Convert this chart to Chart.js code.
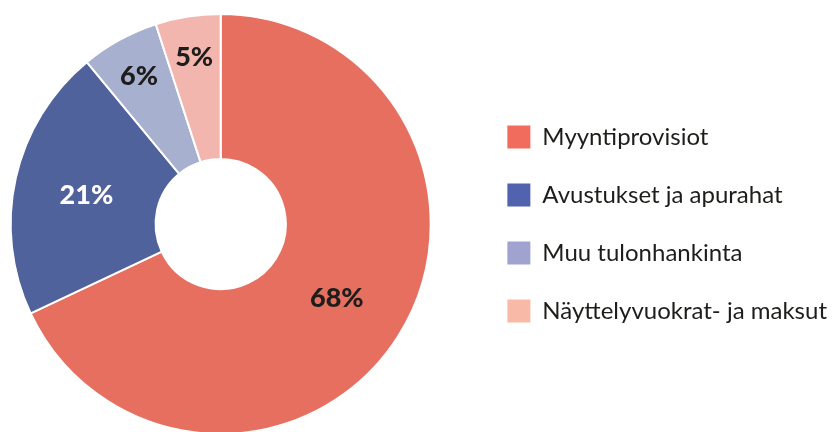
<!DOCTYPE html>
<html>
<head>
<meta charset="utf-8">
<script src="https://cdn.jsdelivr.net/npm/chart.js@4/dist/chart.umd.min.js"></script>
<style>
    html, body { margin: 0; padding: 0; background: #fff; overflow: hidden; }
    #wrap { width: 837px; height: 432px; overflow: hidden; position: relative; }
    /* canvas is a bit wider than the page and pulled left so the ring sits near the edge */
    #incomeChart { position: absolute; left: -32px; top: 0; }
</style>
</head>
<body>
<div id="wrap"><canvas id="incomeChart" width="869" height="432"></canvas></div>
<script>
// Data
const categories = ['Myyntiprovisiot', 'Avustukset ja apurahat', 'Muu tulonhankinta', 'Näyttelyvuokrat- ja maksut'];
const shares = [68, 21, 6, 5];

// Colours
const sliceColors = ['#E76F60', '#50629C', '#A7B0CF', '#F3B6AF'];
const legendColors = ['#F26C5E', '#5163AE', '#A0A3CF', '#F9B9A7'];
const labelColors = ['#1d1d1b', '#ffffff', '#1d1d1b', '#1d1d1b'];

const FONT = "Lato, 'Noto Sans', sans-serif";

// Percentage labels drawn on top of each slice
const sliceLabels = {
    id: 'sliceLabels',
    afterDatasetsDraw(chart) {
        const ctx = chart.ctx;
        const meta = chart.getDatasetMeta(0);
        ctx.save();
        ctx.font = `900 27px ${FONT}`;
        ctx.textAlign = 'center';
        ctx.textBaseline = 'middle';
        meta.data.forEach((arc, i) => {
            const p = arc.getProps(['x', 'y', 'startAngle', 'endAngle', 'innerRadius', 'outerRadius'], true);
            const mid = (p.startAngle + p.endAngle) / 2;
            // small slices get their label pushed outwards
            const frac = shares[i] < 10 ? 0.72 : 0.5;
            const r = p.innerRadius + (p.outerRadius - p.innerRadius) * frac;
            ctx.fillStyle = labelColors[i];
            ctx.fillText(shares[i] + '%', p.x + Math.cos(mid) * r, p.y + Math.sin(mid) * r + 1);
        });
        ctx.restore();
    }
};

const ctx = document.getElementById('incomeChart').getContext('2d');
const baseLabels = Chart.overrides.doughnut.plugins.legend.labels.generateLabels;

new Chart(ctx, {
    type: 'doughnut',
    data: {
        labels: categories,
        datasets: [{
            data: shares,
            backgroundColor: sliceColors,
            borderColor: '#ffffff',
            borderWidth: 2
        }]
    },
    options: {
        responsive: false,
        animation: false,
        events: [],
        radius: 210,
        cutout: '31%',
        layout: {
            padding: { left: 0, right: 0, top: 16, bottom: 0 }
        },
        plugins: {
            tooltip: { enabled: false },
            legend: {
                position: 'right',
                align: 'center',
                labels: {
                    boxWidth: 23,
                    boxHeight: 23,
                    padding: 34,
                    color: '#1d1d1b',
                    font: { family: FONT, size: 24 },
                    generateLabels(chart) {
                        return baseLabels(chart).map((item, i) => ({
                            ...item,
                            fillStyle: legendColors[i],
                            strokeStyle: legendColors[i],
                            lineWidth: 0
                        }));
                    }
                }
            }
        }
    },
    plugins: [sliceLabels]
});
</script>
</body>
</html>
